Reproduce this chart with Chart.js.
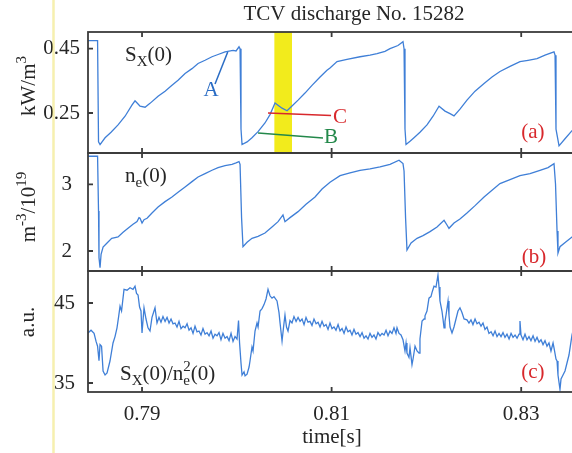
<!DOCTYPE html>
<html>
<head>
<meta charset="utf-8">
<script src="https://cdn.jsdelivr.net/npm/chart.js@4.4.1/dist/chart.umd.min.js"></script>
<style>
  html, body { margin: 0; padding: 0; background: #fff; overflow: hidden; }
  #fig { position: relative; width: 572px; height: 453px; overflow: hidden; }
  #fig canvas { position: absolute; left: 0; top: 0; }
</style>
</head>
<body>
<div id="fig">
  <canvas id="panelA" width="580" height="453"></canvas>
  <canvas id="panelB" width="580" height="453"></canvas>
  <canvas id="panelC" width="580" height="453"></canvas>
</div>
<script>
// ── Data (time in ms) ─────────────────────────────────────────────────────────
const timeMsA = [
  784.30, 785.31, 785.41, 785.57, 786.10, 786.73, 787.47, 788.21, 788.95, 789.26,
  789.58, 789.79, 790.32, 790.84, 791.69, 792.43, 793.16, 793.80, 794.54, 795.27,
  795.91, 796.65, 797.38, 798.02, 798.76, 799.60, 799.92, 800.23, 800.34, 800.44,
  800.55, 801.08, 801.60, 802.24, 802.97, 803.50, 804.03, 804.45, 804.77, 805.30,
  805.82, 806.46, 807.19, 807.93, 808.78, 809.51, 809.83, 810.57, 811.62, 813.00,
  814.05, 814.79, 815.63, 816.16, 817.00, 817.53, 817.64, 817.74, 817.85, 818.27,
  818.69, 819.32, 820.06, 820.70, 821.33, 821.96, 822.49, 822.91, 823.54, 824.28,
  825.13, 826.08, 826.92, 827.76, 828.82, 829.87, 830.72, 831.67, 832.51, 833.46,
  833.57, 833.67, 833.99, 834.62, 835.36, 835.78
]
const sxCentre = [
  0.475, 0.475, 0.16, 0.152, 0.173, 0.19, 0.213, 0.24, 0.275, 0.288,
  0.278, 0.271, 0.268, 0.28, 0.302, 0.318, 0.336, 0.352, 0.373, 0.388,
  0.404, 0.414, 0.425, 0.432, 0.44, 0.445, 0.443, 0.456, 0.45, 0.2,
  0.152, 0.16, 0.173, 0.192, 0.219, 0.245, 0.281, 0.272, 0.265, 0.257,
  0.272, 0.29, 0.312, 0.336, 0.362, 0.383, 0.39, 0.41, 0.417, 0.425,
  0.43, 0.435, 0.442, 0.45, 0.46, 0.472, 0.45, 0.2, 0.152, 0.162,
  0.173, 0.19, 0.213, 0.24, 0.271, 0.256, 0.248, 0.241, 0.262, 0.29,
  0.318, 0.342, 0.362, 0.379, 0.395, 0.41, 0.414, 0.419, 0.43, 0.44,
  0.43, 0.2, 0.148, 0.17, 0.195, 0.205
]

const timeMsB = [
  784.30, 785.31, 785.41, 785.46, 785.57, 785.68, 785.89, 786.31, 786.80, 787.15,
  787.47, 788.00, 788.52, 789.05, 789.47, 789.68, 789.79, 790.00, 790.21, 790.53,
  791.05, 791.69, 792.43, 793.16, 793.80, 794.54, 795.27, 795.91, 796.65, 797.38,
  798.02, 798.76, 799.49, 799.92, 800.23, 800.34, 800.50, 800.65, 801.08, 801.60,
  802.24, 802.97, 803.71, 804.35, 804.87, 805.08, 805.61, 806.46, 807.30, 808.25,
  808.99, 809.83, 810.89, 811.94, 813.00, 814.05, 815.11, 816.16, 817.11, 817.53,
  817.64, 817.80, 817.95, 818.38, 819.01, 819.64, 820.38, 821.12, 821.86, 822.17,
  822.38, 822.91, 823.54, 824.28, 825.13, 826.08, 826.92, 827.76, 828.82, 829.87,
  830.93, 831.98, 832.83, 833.46, 833.62, 833.78, 833.88, 834.09, 834.73, 835.36,
  835.78
]
const neCentre = [
  3.42, 3.42, 2.6, 1.9, 1.75, 1.95, 2.06, 2.12, 2.19, 2.2,
  2.21, 2.28, 2.34, 2.4, 2.44, 2.5, 2.49, 2.42, 2.47, 2.49,
  2.57, 2.66, 2.74, 2.81, 2.88, 2.96, 3.04, 3.11, 3.16, 3.21,
  3.25, 3.28, 3.3, 3.32, 3.34, 3.3, 2.5, 2.064, 2.13, 2.19,
  2.22, 2.27, 2.36, 2.44, 2.54, 2.44, 2.5, 2.59, 2.7, 2.81,
  2.93, 3.03, 3.13, 3.17, 3.21, 3.23, 3.26, 3.3, 3.36, 3.31,
  3.2, 2.5, 2.015, 2.12, 2.19, 2.23, 2.29, 2.36, 2.46, 2.39,
  2.34, 2.42, 2.48, 2.57, 2.68, 2.81, 2.91, 3.01, 3.07, 3.13,
  3.16, 3.21, 3.25, 3.31, 3.0, 2.3, 1.97, 2.064, 2.14, 2.21,
  2.25
]

const timeMsC = [
  784.30, 784.62, 784.94, 785.15, 785.31, 785.46, 785.57, 785.73, 785.89, 786.10,
  786.31, 786.62, 786.94, 787.15, 787.36, 787.52, 787.68, 787.84, 788.10, 788.42,
  788.73, 789.05, 789.26, 789.42, 789.58, 789.74, 789.89, 790.00, 790.21, 790.42,
  790.63, 790.84, 791.05, 791.37, 791.58, 791.79, 792.00, 792.21, 792.43, 792.64,
  792.85, 793.06, 793.27, 793.48, 793.69, 793.90, 794.11, 794.33, 794.54, 794.75,
  794.96, 795.17, 795.38, 795.59, 795.80, 796.01, 796.22, 796.43, 796.65, 796.86,
  797.07, 797.28, 797.49, 797.70, 797.91, 798.12, 798.33, 798.54, 798.76, 798.97,
  799.18, 799.39, 799.60, 799.81, 800.02, 800.18, 800.29, 800.44, 800.55, 800.76,
  800.87, 801.08, 801.29, 801.39, 801.60, 801.71, 801.92, 802.13, 802.24, 802.45,
  802.66, 802.87, 803.08, 803.29, 803.50, 803.71, 803.92, 804.24, 804.45, 804.56,
  804.77, 804.93, 805.08, 805.24, 805.40, 805.61, 805.82, 806.03, 806.25, 806.46,
  806.67, 806.88, 807.09, 807.30, 807.51, 807.72, 807.93, 808.14, 808.36, 808.57,
  808.78, 808.99, 809.20, 809.41, 809.62, 809.83, 810.04, 810.25, 810.46, 810.68,
  810.89, 811.10, 811.31, 811.52, 811.73, 811.94, 812.15, 812.36, 812.57, 812.78,
  813.00, 813.21, 813.42, 813.63, 813.84, 814.05, 814.26, 814.47, 814.68, 814.89,
  815.11, 815.32, 815.53, 815.74, 815.95, 816.16, 816.37, 816.58, 816.79, 816.90,
  817.11, 817.32, 817.53, 817.74, 817.85, 817.95, 818.16, 818.27, 818.48, 818.59,
  818.80, 819.01, 819.22, 819.32, 819.54, 819.75, 819.85, 820.06, 820.27, 820.48,
  820.59, 820.80, 821.01, 821.22, 821.33, 821.43, 821.64, 821.75, 821.86, 821.96,
  822.07, 822.28, 822.38, 822.49, 822.70, 822.91, 823.12, 823.33, 823.54, 823.75,
  823.97, 824.28, 824.49, 824.70, 824.91, 825.13, 825.34, 825.55, 825.76, 825.97,
  826.18, 826.39, 826.60, 826.82, 827.03, 827.24, 827.45, 827.66, 827.87, 828.08,
  828.29, 828.50, 828.72, 828.93, 829.14, 829.35, 829.56, 829.77, 829.87, 829.98,
  830.19, 830.40, 830.61, 830.82, 831.03, 831.25, 831.46, 831.67, 831.88, 832.09,
  832.30, 832.51, 832.72, 832.93, 833.14, 833.36, 833.46, 833.67, 833.78, 833.88,
  834.09, 834.20, 834.41, 834.62, 834.83, 835.04, 835.36, 835.57
]
const ratioC = [
  41.25, 41.6, 41.2, 40.2, 39.6, 37.8, 39.8, 39.6, 36.5, 36.0,
  36.25, 37.75, 40.0, 40.8, 41.9, 43.2, 44.6, 44.0, 46.7, 46.6,
  46.9, 46.7, 47.1, 46.2, 46.0, 44.5, 44.0, 41.25, 44.4, 43.0,
  41.9, 41.5, 43.2, 44.4, 42.5, 43.2, 42.6, 43.3, 42.7, 43.2,
  42.5, 43.0, 42.4, 42.5, 42.0, 42.7, 41.8, 42.1, 41.9, 42.4,
  41.6, 41.9, 41.2, 42.1, 41.4, 41.5, 41.0, 41.8, 41.1, 41.3,
  40.9, 41.5, 40.6, 41.1, 40.9, 41.3, 40.4, 41.2, 40.6, 40.8,
  40.3, 41.2, 40.2, 40.8, 40.5, 42.8, 40.0, 37.5, 36.0, 36.4,
  35.9, 36.1, 37.0, 37.75, 39.5, 39.0, 41.5, 42.5, 42.0, 44.0,
  44.3, 44.8, 45.5, 46.7, 45.9, 45.6, 45.8, 45.25, 43.8, 42.5,
  40.25, 42.0, 43.5, 42.0, 41.5, 42.8, 42.5, 43.3, 42.7, 43.2,
  42.7, 43.0, 42.3, 43.2, 42.6, 42.7, 42.2, 43.0, 42.4, 42.6,
  42.0, 42.7, 42.1, 42.3, 41.7, 42.5, 41.8, 42.0, 41.6, 42.3,
  41.5, 41.8, 41.2, 42.0, 41.4, 41.6, 41.0, 41.7, 41.1, 41.3,
  40.8, 41.3, 40.6, 40.9, 40.5, 41.2, 40.7, 41.0, 40.5, 41.3,
  40.9, 41.2, 41.0, 41.6, 40.9, 41.5, 41.2, 41.9, 41.2, 41.9,
  41.2, 41.0, 40.4, 39.0, 40.0, 38.75, 38.2, 39.4, 37.3, 38.0,
  39.6, 39.0, 38.75, 40.5, 42.75, 43.0, 43.4, 44.0, 45.6, 45.8,
  46.3, 47.1, 47.0, 48.5, 47.0, 45.25, 44.0, 43.0, 41.9, 42.7,
  43.5, 45.25, 43.5, 42.0, 41.25, 42.0, 43.0, 44.0, 44.4, 43.8,
  43.0, 42.9, 42.5, 42.9, 42.3, 43.0, 42.4, 42.6, 42.1, 42.5,
  41.7, 42.0, 41.2, 41.4, 40.9, 41.5, 40.8, 41.2, 40.8, 41.3,
  40.7, 41.1, 40.5, 41.2, 40.7, 41.0, 40.6, 41.1, 42.75, 41.0,
  40.4, 41.1, 40.4, 40.8, 40.3, 40.9, 40.2, 40.7, 40.1, 40.4,
  39.8, 40.3, 39.6, 40.0, 39.0, 40.0, 39.4, 38.0, 37.75, 36.0,
  34.2, 35.5, 36.0, 36.5, 37.5, 38.5, 41.0, 42.0
]

// axis ticks (seconds / panel units)
const xTicks = [0.79, 0.81, 0.83]
const ticksA = [0.25, 0.45]
const ticksB = [2, 3]
const ticksC = [35, 45]

// highlighted time window (s)
const bandA = [0.80396, 0.80582]

// ── Look ──────────────────────────────────────────────────────────────────────
const SERIF = "'Liberation Serif', 'Times New Roman', Times, serif"
const W = 580, H = 453, LEFT = 88, RIGHT = 576
const CURVE = '#3f7fd7', FRAME = '#3b3b3b', INK = '#262626'
const RED = '#d8282c', GREEN = '#23884a', BLUE = '#2a6cc4', YELLOW = '#f2eb1c'

function points(times, values) {
  return times.map((t, i) => ({ x: t / 1000, y: values[i] }))
}

// parts: [text, level(0 normal, -1 sub, 1 sup), stackOnPrevious]
function richText(ctx, parts, x, y, align) {
  const fontFor = lv => (lv === 0 ? 21 : 15) + 'px ' + SERIF
  const layout = []
  let cx = 0, prevStart = 0, prevW = 0
  parts.forEach(([s, lv, stack]) => {
    ctx.font = fontFor(lv)
    const w = ctx.measureText(s).width
    const start = stack ? prevStart : cx
    layout.push({ s, lv, start })
    cx = stack ? prevStart + Math.max(prevW, w) : cx + w
    prevStart = start; prevW = w
  })
  const x0 = align === 'center' ? x - cx / 2 : x
  ctx.textAlign = 'left'
  ctx.textBaseline = 'alphabetic'
  layout.forEach(({ s, lv, start }) => {
    ctx.font = fontFor(lv)
    ctx.fillText(s, x0 + start, y + (lv < 0 ? 5 : lv > 0 ? -9 : 0))
  })
}

// frame with inward ticks
const frame = {
  id: 'frame',
  afterDatasetsDraw(chart) {
    const { ctx, chartArea: a, scales: { x, y } } = chart
    ctx.save()
    ctx.strokeStyle = FRAME
    ctx.lineWidth = 1.8
    ctx.strokeRect(a.left, a.top, a.right - a.left, a.bottom - a.top)
    ctx.beginPath()
    xTicks.forEach(v => {
      const px = x.getPixelForValue(v)
      ctx.moveTo(px, a.top); ctx.lineTo(px, a.top + 5)
      ctx.moveTo(px, a.bottom); ctx.lineTo(px, a.bottom - 5)
    })
    y.ticks.forEach(t => {
      const py = y.getPixelForValue(t.value)
      ctx.moveTo(a.left, py); ctx.lineTo(a.left + 5, py)
    })
    ctx.stroke()
    ctx.restore()
  }
}

// labels and pointer lines, placed in data coordinates of each panel
const annotations = {
  id: 'annotations',
  beforeDatasetsDraw(chart, args, opts) {
    if (!opts.band) return
    const { ctx, chartArea: a, scales: { x } } = chart
    const x1 = x.getPixelForValue(opts.band[0]), x2 = x.getPixelForValue(opts.band[1])
    ctx.save()
    ctx.fillStyle = YELLOW
    ctx.fillRect(x1, a.top, x2 - x1, a.bottom - a.top)
    ctx.restore()
  },
  afterDatasetsDraw(chart, args, opts) {
    const { ctx, scales: { x, y } } = chart
    ctx.save()
    ;(opts.pointers || []).forEach(p => {
      ctx.strokeStyle = p.color
      ctx.lineWidth = 1.5
      ctx.beginPath()
      ctx.moveTo(x.getPixelForValue(p.from[0]), y.getPixelForValue(p.from[1]))
      ctx.lineTo(x.getPixelForValue(p.to[0]), y.getPixelForValue(p.to[1]))
      ctx.stroke()
    })
    ;(opts.labels || []).forEach(l => {
      ctx.fillStyle = l.color || INK
      richText(ctx, l.parts, x.getPixelForValue(l.at[0]), y.getPixelForValue(l.at[1]), l.align)
    })
    ctx.restore()
  }
}

// page-level text: title, rotated unit labels, scan edge line
const page = {
  id: 'page',
  afterDraw(chart) {
    const { ctx } = chart
    ctx.save()
    ctx.strokeStyle = 'rgba(238, 228, 110, 0.55)'
    ctx.lineWidth = 2.5
    ctx.beginPath(); ctx.moveTo(53.5, 0); ctx.lineTo(53.5, H); ctx.stroke()

    ctx.fillStyle = INK
    richText(ctx, [['TCV discharge No. 15282', 0]], 354, 20, 'center')

    const units = [
      { parts: [['kW/m', 0], ['3', 1]], x: 35, y: 86 },
      { parts: [['m', 0], ['-3', 1], ['/10', 0], ['19', 1]], x: 35, y: 207 },
      { parts: [['a.u.', 0]], x: 34, y: 322 }
    ]
    units.forEach(u => {
      ctx.save()
      ctx.translate(u.x, u.y)
      ctx.rotate(-Math.PI / 2)
      richText(ctx, u.parts, 0, 0, 'center')
      ctx.restore()
    })
    ctx.restore()
  }
}

function panel(id, p) {
  const showTime = !!p.showTime
  return new Chart(document.getElementById(id), {
    type: 'line',
    data: {
      datasets: [{
        data: points(p.times, p.values),
        borderColor: CURVE, borderWidth: 1.3, pointRadius: 0, tension: 0, fill: false
      }]
    },
    options: {
      responsive: false,
      animation: false,
      events: [],
      layout: { padding: { left: 0, right: W - RIGHT, top: p.top, bottom: showTime ? 0 : H - p.bottom } },
      plugins: {
        legend: { display: false },
        tooltip: { enabled: false },
        annotations: p.annotations
      },
      scales: {
        x: {
          type: 'linear', min: 0.7843, max: 0.83578, display: showTime,
          afterBuildTicks: s => { s.ticks = xTicks.map(value => ({ value })) },
          afterFit: s => { if (showTime) s.height = H - p.bottom },
          grid: { display: false, drawTicks: false },
          border: { display: false },
          ticks: {
            padding: 10, color: INK, maxRotation: 0, autoSkip: false,
            font: { family: SERIF, size: 21 },
            callback: v => v.toFixed(2)
          },
          title: {
            display: showTime, text: 'time[s]', color: INK,
            font: { family: SERIF, size: 21 }, padding: { top: 0, bottom: 3 }
          }
        },
        y: {
          min: p.range[0], max: p.range[1],
          afterBuildTicks: s => { s.ticks = p.ticks.map(value => ({ value })) },
          afterFit: s => { s.width = LEFT },
          grid: { display: false, drawTicks: false },
          border: { display: false },
          ticks: {
            padding: p.labelPad, color: INK,
            font: { family: SERIF, size: 21 },
            callback: p.format
          }
        }
      }
    },
    plugins: [annotations, frame].concat(p.extra || [])
  })
}

panel('panelA', {
  times: timeMsA, values: sxCentre, top: 32, bottom: 153,
  range: [0.1256, 0.502], ticks: ticksA, labelPad: 8, format: v => v.toFixed(2),
  extra: [page],
  annotations: {
    band: bandA,
    pointers: [
      { from: [0.79770, 0.340], to: [0.79904, 0.4397], color: BLUE },
      { from: [0.80329, 0.25], to: [0.80994, 0.2422], color: RED },
      { from: [0.80224, 0.1878], to: [0.80909, 0.1722], color: GREEN }
    ],
    labels: [
      { parts: [['S', 0], ['X', -1], ['(0)', 0]], at: [0.78821, 0.4117] },
      { parts: [['A', 0]], at: [0.79728, 0.302], align: 'center', color: BLUE },
      { parts: [['C', 0]], at: [0.81015, 0.2189], color: RED },
      { parts: [['B', 0]], at: [0.80920, 0.1567], color: GREEN },
      { parts: [['(a)', 0]], at: [0.83124, 0.1722], align: 'center', color: RED }
    ]
  }
})

panel('panelB', {
  times: timeMsB, values: neCentre, top: 153, bottom: 271,
  range: [1.70, 3.469], ticks: ticksB, labelPad: 16, format: v => String(v),
  annotations: {
    labels: [
      { parts: [['n', 0], ['e', -1], ['(0)', 0]], at: [0.78821, 3.039] },
      { parts: [['(b)', 0]], at: [0.83135, 1.816], align: 'center', color: RED }
    ]
  }
})

panel('panelC', {
  times: timeMsC, values: ratioC, top: 271, bottom: 392, showTime: true,
  range: [33.875, 49], ticks: ticksC, labelPad: 13, format: v => String(v),
  annotations: {
    labels: [
      { parts: [['S', 0], ['X', -1], ['(0)/n', 0], ['e', -1], ['2', 1, true], ['(0)', 0]], at: [0.78768, 35.41] },
      { parts: [['(c)', 0]], at: [0.83124, 35.625], align: 'center', color: RED }
    ]
  }
})
</script>
</body>
</html>
